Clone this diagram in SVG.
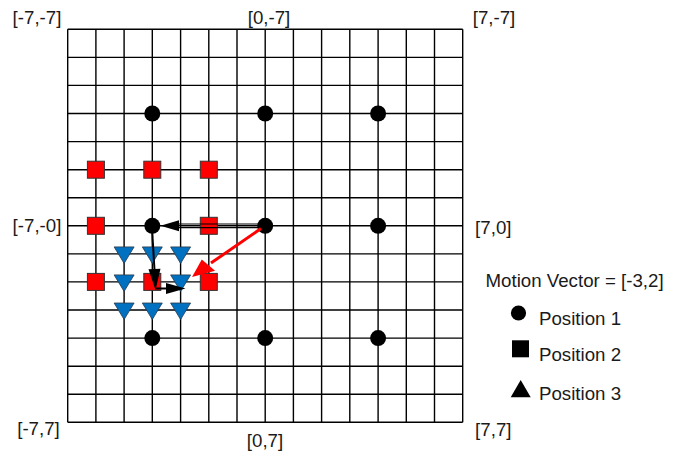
<svg xmlns="http://www.w3.org/2000/svg" width="681" height="452" viewBox="0 0 681 452">
<style>
.lbl{font-family:"Liberation Sans",Arial,sans-serif;font-size:18.7px;fill:#1a1a1a}
.mid{text-anchor:middle}
.grid{stroke:#000;stroke-width:1.4;fill:none}
.p1{fill:#000}
.p2{fill:#ff0000;stroke:#333;stroke-width:1}
.p3{fill:#0070c0;stroke:#2a3a4a;stroke-width:0.8}
.blk{stroke:#000;stroke-width:2;fill:none}
.thin{stroke:#000;stroke-width:1.2;fill:none}
.red{stroke:#ff0000;stroke-width:3;fill:none}
.hb{fill:#000}
.hr{fill:#ff0000}
</style>
<rect width="681" height="452" fill="#fff"/>
<g id="grid">
<path class="grid" d="M67.7,29.3V422.3M95.9,29.3V422.3M124.1,29.3V422.3M152.3,29.3V422.3M180.6,29.3V422.3M208.8,29.3V422.3M237,29.3V422.3M265.2,29.3V422.3M293.4,29.3V422.3M321.6,29.3V422.3M349.8,29.3V422.3M378.1,29.3V422.3M406.3,29.3V422.3M434.5,29.3V422.3M462.7,29.3V422.3
M67.7,29.3H462.7M67.7,57.4H462.7M67.7,85.4H462.7M67.7,113.5H462.7M67.7,141.6H462.7M67.7,169.7H462.7M67.7,197.7H462.7M67.7,225.8H462.7M67.7,253.9H462.7M67.7,281.9H462.7M67.7,310H462.7M67.7,338.1H462.7M67.7,366.2H462.7M67.7,394.2H462.7M67.7,422.3H462.7"/>
</g>
<g id="labels">
<text class="lbl mid" x="37" y="23.5">[-7,-7]</text>
<text class="lbl mid" x="269" y="23.5">[0,-7]</text>
<text class="lbl mid" x="494" y="23.5">[7,-7]</text>
<text class="lbl mid" x="37" y="232">[-7,-0]</text>
<text class="lbl mid" x="493.3" y="233.5">[7,0]</text>
<text class="lbl mid" x="38.5" y="435">[-7,7]</text>
<text class="lbl mid" x="265" y="446.5">[0,7]</text>
<text class="lbl mid" x="493.3" y="436">[7,7]</text>
</g>
<g id="position1">
<circle class="p1" cx="152.3" cy="113.5" r="8"/>
<circle class="p1" cx="265.2" cy="113.5" r="8"/>
<circle class="p1" cx="378.1" cy="113.5" r="8"/>
<circle class="p1" cx="152.3" cy="225.8" r="8"/>
<circle class="p1" cx="265.2" cy="225.8" r="8"/>
<circle class="p1" cx="378.1" cy="225.8" r="8"/>
<circle class="p1" cx="152.3" cy="338.1" r="8"/>
<circle class="p1" cx="265.2" cy="338.1" r="8"/>
<circle class="p1" cx="378.1" cy="338.1" r="8"/>
</g>
<g id="position2">
<rect class="p2" x="87.4" y="161.2" width="17" height="17"/>
<rect class="p2" x="143.8" y="161.2" width="17" height="17"/>
<rect class="p2" x="200.3" y="161.2" width="17" height="17"/>
<rect class="p2" x="87.4" y="217.3" width="17" height="17"/>
<rect class="p2" x="200.3" y="217.3" width="17" height="17"/>
<rect class="p2" x="87.4" y="273.4" width="17" height="17"/>
<rect class="p2" x="143.8" y="273.4" width="17" height="17"/>
<rect class="p2" x="200.3" y="273.4" width="17" height="17"/>
</g>
<g id="position3">
<polygon class="p3" points="114.1,246.9 134.1,246.9 124.1,263.4"/>
<polygon class="p3" points="142.3,246.9 162.3,246.9 152.3,263.4"/>
<polygon class="p3" points="170.6,246.9 190.6,246.9 180.6,263.4"/>
<polygon class="p3" points="114.1,274.9 134.1,274.9 124.1,291.4"/>
<polygon class="p3" points="170.6,274.9 190.6,274.9 180.6,291.4"/>
<polygon class="p3" points="114.1,303 134.1,303 124.1,319.5"/>
<polygon class="p3" points="142.3,303 162.3,303 152.3,319.5"/>
<polygon class="p3" points="170.6,303 190.6,303 180.6,319.5"/>
</g>
<g id="connectors">
<line class="thin" x1="178" y1="224" x2="258" y2="224"/>
<line class="thin" x1="178" y1="227.6" x2="258" y2="227.6"/>
<polygon class="hb" points="160.5,225.8 179,220.3 179,231.3"/>
<line class="blk" x1="152.3" y1="233" x2="154.6" y2="272"/>
<polygon class="hb" points="155.5,290 160.5,268.7 148.5,269.3"/>
<line class="blk" x1="155" y1="288.5" x2="168" y2="288.5"/>
<polygon class="hb" points="185.5,288.5 166,283 166,294"/>
<line class="red" x1="261" y1="228.6" x2="211" y2="263"/>
<polygon class="hr" points="192,277 201.8,259.5 215.1,270.8"/>
</g>
<g id="legend">
<text class="lbl" x="485.5" y="286.5">Motion Vector = [-3,2]</text>
<circle class="p1" cx="518.5" cy="313" r="7.6"/>
<text class="lbl" x="539" y="325">Position 1</text>
<rect x="512" y="340.3" width="17" height="17" fill="#000"/>
<text class="lbl" x="539" y="361">Position 2</text>
<polygon points="510.7,397.3 530.7,397.3 520.7,380" fill="#000"/>
<text class="lbl" x="539" y="400">Position 3</text>
</g>
</svg>
